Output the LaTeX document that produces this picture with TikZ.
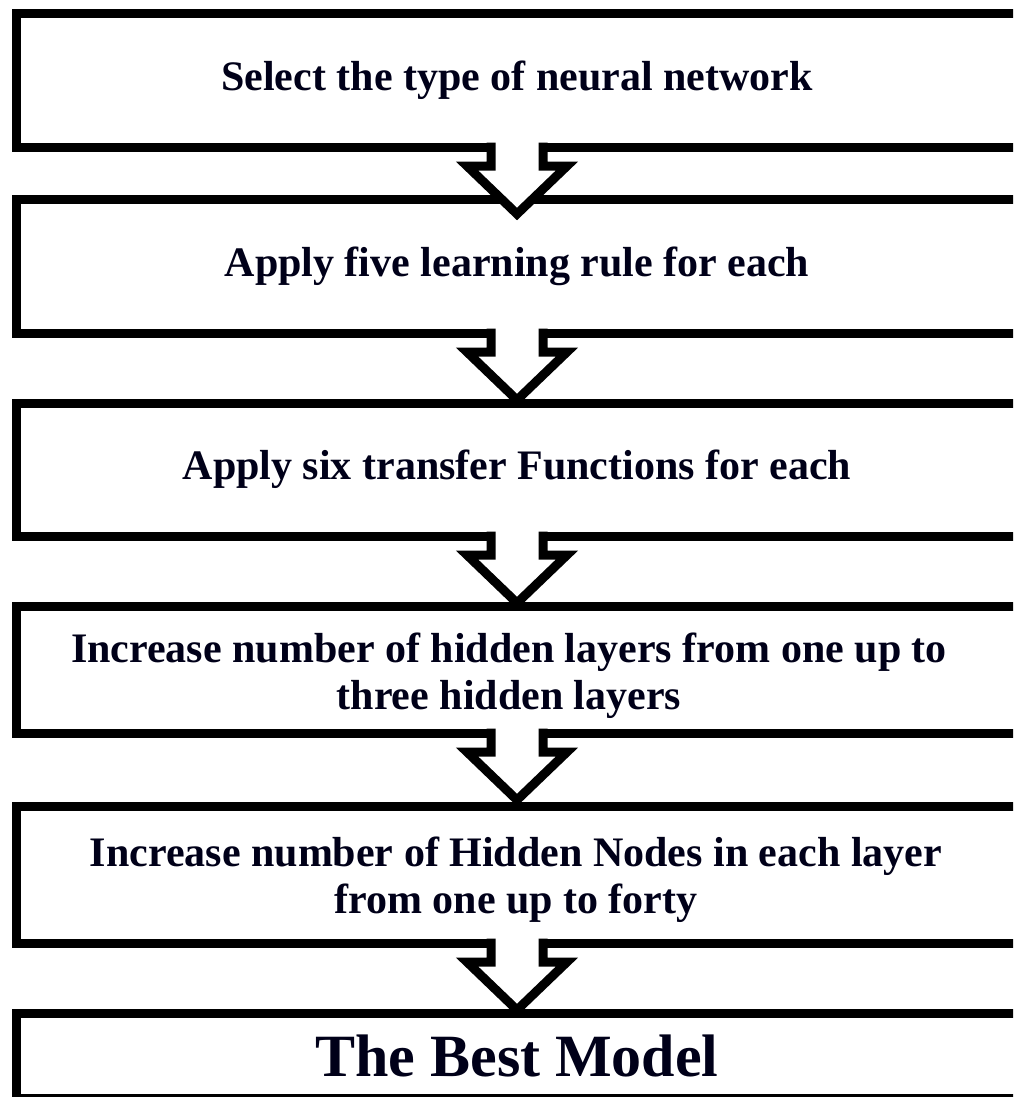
\documentclass[tikz,border=0pt]{standalone}
\usepackage{fontspec}
\setmainfont{Liberation Serif}
\usetikzlibrary{calc}
\tikzset{
  flowbox/.style={draw=black, line width=9pt, fill=white, rectangle, inner sep=0pt, outer sep=0pt,
    minimum width=1002pt, align=center, font=\bfseries\fontsize{42}{47}\selectfont, text=black!90!blue},
  boxtext/.style={inner sep=0pt, align=center, font=\bfseries\fontsize{42}{47}\selectfont, text=black!90!blue},
  arrowline/.style={draw=black, line width=9pt, line join=miter, miter limit=10},
}
\newcommand{\flowarrow}[1]{%
  \fill[white] ($(#1.south)+(-26,5)$) -- ($(#1.south)+(-26,-19)$) -- ($(#1.south)+(-50,-19)$)
     -- ($(#1.south)+(0,-67)$) -- ($(#1.south)+(50,-19)$) -- ($(#1.south)+(26,-19)$) -- ($(#1.south)+(26,5)$) -- cycle;
  \draw[arrowline] ($(#1.south)+(-26,4.5)$) -- ($(#1.south)+(-26,-19)$) -- ($(#1.south)+(-50,-19)$)
     -- ($(#1.south)+(0,-67)$) -- ($(#1.south)+(50,-19)$) -- ($(#1.south)+(26,-19)$) -- ($(#1.south)+(26,4.5)$);
}
\begin{document}
\begin{tikzpicture}[x=1pt,y=1pt]
\fill[white] (0,0) rectangle (1013,-1097);
\useasboundingbox (0,0) rectangle (1013,-1097);
\clip (0,0) rectangle (1013,-1097);
\node[flowbox, minimum height=133pt] (b1) at (517,-80.5) {\raisebox{-3pt}{Select the type of neural network}};
\node[flowbox, minimum height=134pt] (b2) at (517,-266) {Apply five learning rule for each};
\node[flowbox, minimum height=133pt] (b3) at (517,-469.5) {Apply six transfer Functions for each};
\node[flowbox, minimum height=127pt] (b4) at (517,-669.5) {};
\node[boxtext] (t4) at ($(b4.center)+(-8,-6)$) {Increase number of hidden layers from one up to\\three hidden layers};
\node[flowbox, minimum height=137pt] (b5) at (517,-874.5) {};
\node[boxtext] (t5) at ($(b5.center)+(-1,-5)$) {Increase number of Hidden Nodes in each layer\\from one up to forty};
\node[flowbox, minimum height=85pt, font=\bfseries\fontsize{60}{66}\selectfont] (b6) at (517,-1055.5) {The Best Model};
\flowarrow{b1}
\flowarrow{b2}
\flowarrow{b3}
\flowarrow{b4}
\flowarrow{b5}
\end{tikzpicture}
\end{document}
